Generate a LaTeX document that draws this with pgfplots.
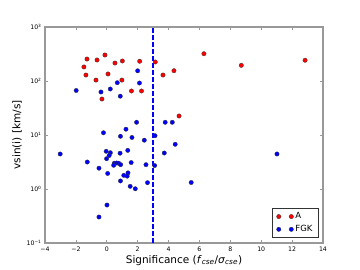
\documentclass[border=0pt]{standalone}
\usepackage{fontspec}
\setmainfont{DejaVu Sans}
\usepackage{pgfplots}
\pgfplotsset{compat=1.18}
\definecolor{spine}{gray}{0.6}
\definecolor{dashblue}{rgb}{0,0,1}
\begin{document}
\begin{tikzpicture}
\path[use as bounding box] (-45pt,-27pt) rectangle (315pt,243pt);
\begin{axis}[
  at={(0pt,0pt)}, anchor=south west,
  scale only axis, width=278pt, height=216pt,
  xmin=-4, xmax=14, ymin=0.1, ymax=1000,
  ymode=log, log basis y=10,
  xtick={-4,-2,...,14},
  xticklabels={−4,−2,0,2,4,6,8,10,12,14},
  ytick={0.1,1,10,100,1000},
  yticklabels={10\textsuperscript{−1},10\textsuperscript{0},10\textsuperscript{1},10\textsuperscript{2},10\textsuperscript{3}},
  tick align=inside,
  major tick length=3pt, minor tick length=1.6pt,
  axis line style={draw=spine, line width=1.3pt},
  every tick/.style={spine, line width=0.6pt},
  tick label style={font=\fontsize{6.2}{7}\selectfont, text=black},
  xlabel={Significance (\textit{f}\textsubscript{\textit{cse}}/\textit{σ}\textsubscript{\textit{cse}})},
  ylabel={vsin(i) [km/s]},
  label style={font=\fontsize{10.5}{12}\selectfont},
  xlabel style={yshift=3pt},
  ylabel style={yshift=-2pt},
  legend style={at={(0.985,0.023)}, anchor=south east, draw=black!80, line width=0.6pt,
    font=\fontsize{8.5}{10}\selectfont, inner xsep=4pt, inner ysep=2.5pt, row sep=1pt},
  legend cell align=left,
  legend image code/.code={\draw[#1,only marks] plot coordinates {(0pt,0pt) (12.5pt,0pt)};},
]
\addplot[only marks, mark=*, mark size=2.2pt, mark options={fill=red, draw=black!80, line width=0.3pt}]
coordinates {
(-1.48,182) (-1.35,129) (-1.28,255) (-0.63,245) (-0.12,303) (-0.70,104) (0.08,135)
(-0.31,46.4) (0.53,215) (1.01,235) (0.98,104) (1.60,65.3) (2.25,65.3) (2.13,232)
(3.14,225) (3.64,129) (4.35,155) (4.68,22.5) (6.29,320) (8.71,195) (12.84,242)
};
\addlegendentry{A}
\addplot[only marks, mark=*, mark size=2.2pt, mark options={fill=blue, draw=black!80, line width=0.3pt}]
coordinates {
(-1.98,66.7) (-0.376,62.6) (0.227,71.1) (0.680,93.0) (0.874,52.3) (2.000,154.5) (2.118,91.8)
(-0.214,11.0) (1.243,12.8) (1.930,17.2) (0.887,9.46) (1.632,8.99) (3.122,9.71) (3.782,17.2)
(4.242,17.2) (2.429,8.01) (-3.018,4.45) (-0.039,4.99) (0.233,4.70) (0.155,4.17) (0.861,4.60)
(1.360,5.19) (-0.013,3.64) (-1.263,3.16) (0.486,3.00) (0.642,3.03) (0.771,3.00) (0.447,2.75)
(0.900,2.82) (1.580,3.09) (2.539,2.82) (3.102,2.72) (-0.505,2.43) (0.058,1.94) (1.101,1.79)
(1.373,1.99) (1.321,1.73) (0.887,1.41) (1.516,1.12) (1.846,1.01) (2.636,1.31) (0.013,0.505)
(-0.505,0.303) (3.724,4.64) (4.430,6.73) (5.466,1.32) (11.02,4.45)
};
\addlegendentry{FGK}
\addplot[draw=dashblue, fill=none, line width=1.3pt, line cap=butt, dash pattern=on 4.5pt off 2.5pt, mark=none]
coordinates {(3,0.1) (3,1000)};
\end{axis}
\end{tikzpicture}
\end{document}
